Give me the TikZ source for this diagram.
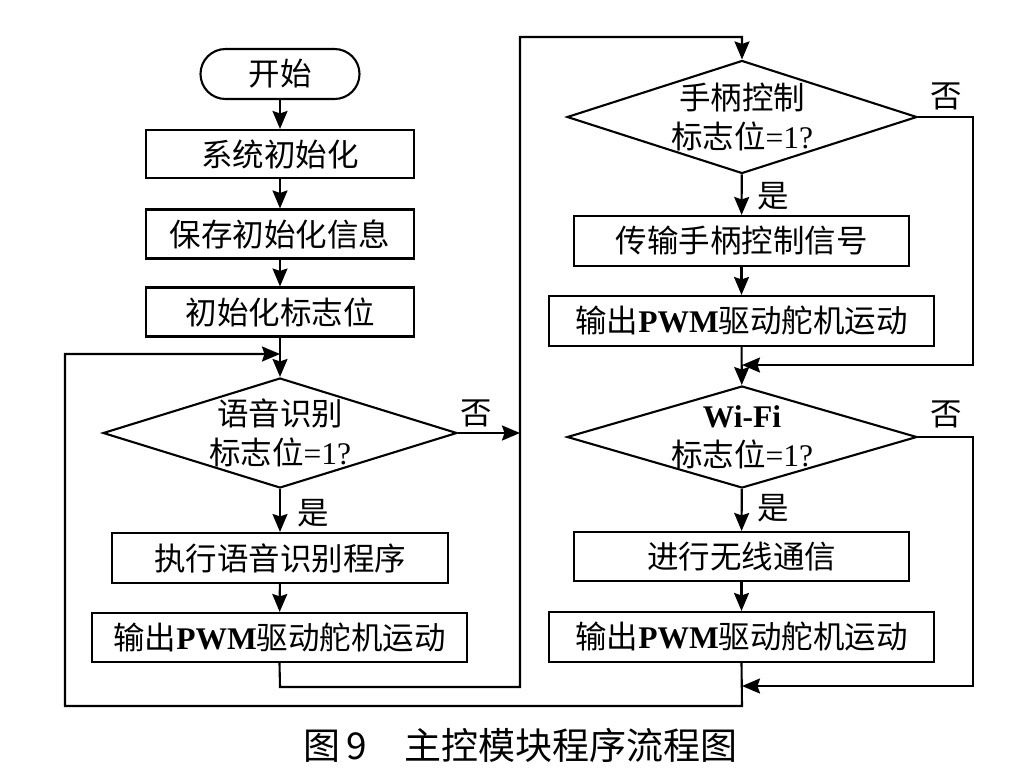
\documentclass[tikz,border=0pt]{standalone}
\usepackage{fontspec}
\setmainfont{Liberation Serif}
\newfontfamily\cjk{Noto Sans CJK SC}
\usetikzlibrary{arrows.meta,shapes.geometric}
\newcommand{\C}[1]{{\cjk #1}}
\begin{document}
\begin{tikzpicture}[x=1pt,y=-1pt,
  line width=2.1pt,
  every node/.style={font=\fontsize{31.5}{34}\selectfont},
  box/.style={draw,rectangle,inner sep=0pt,line width=2.1pt},
  pill/.style={draw,rectangle,rounded corners=25pt,inner sep=0pt,line width=2.1pt},
  dia/.style={draw,diamond,inner sep=0pt,line width=2.1pt,align=center},
  arr/.style={-{Stealth[length=18pt,width=15pt,inset=2.5pt]}},
  lbl/.style={inner sep=0pt}]
\useasboundingbox (0,0) rectangle (1009,772);
% left column
\node[pill,minimum width=159pt,minimum height=50pt] (start) at (280,74) {\C{开始}};
\node[box,minimum width=268pt,minimum height=48pt] (i1) at (280,154) {\C{系统初始化}};
\node[box,minimum width=268pt,minimum height=49pt] (i2) at (280,234) {\C{保存初始化信息}};
\node[box,minimum width=268pt,minimum height=49pt] (i3) at (280,312) {\C{初始化标志位}};
\node[dia,minimum width=354pt,minimum height=110pt] (d1) at (280,433) {};
\node[lbl,align=center] (t1) at (280,433) {\C{语音识别}\\[5pt]\C{标志位}=1?};
\node[box,minimum width=336pt,minimum height=50pt] (ex) at (280,558) {\C{执行语音识别程序}};
\node[box,minimum width=375pt,minimum height=49pt] (o1) at (279.5,637.5) {\C{输出}\textbf{PWM}\C{驱动舵机运动}};
% right column
\node[dia,minimum width=350pt,minimum height=113pt] (d2) at (742,117) {};
\node[lbl,align=center] (t2) at (742,117) {\C{手柄控制}\\[5pt]\C{标志位}=1?};
\node[box,minimum width=335pt,minimum height=50pt] (tr) at (741.5,241) {\C{传输手柄控制信号}};
\node[box,minimum width=385pt,minimum height=50pt] (o2) at (741.5,321) {\C{输出}\textbf{PWM}\C{驱动舵机运动}};
\node[dia,minimum width=350pt,minimum height=102pt] (d3) at (742,437) {};
\node[lbl,align=center] (t3) at (742,437) {\textbf{Wi-Fi}\\[5pt]\C{标志位}=1?};
\node[box,minimum width=335pt,minimum height=49pt] (wf) at (741.5,556.5) {\C{进行无线通信}};
\node[box,minimum width=385pt,minimum height=50pt] (o3) at (741.5,637) {\C{输出}\textbf{PWM}\C{驱动舵机运动}};
% labels
\node[lbl] (n1) at (476,413) {\C{否}};
\node[lbl] (y1) at (313,513) {\C{是}};
\node[lbl] (n2) at (946,96) {\C{否}};
\node[lbl] (y2) at (773,196) {\C{是}};
\node[lbl] (n3) at (946,414) {\C{否}};
\node[lbl] (y3) at (773,508) {\C{是}};
% coordinates
\coordinate (j1) at (280,354);
\coordinate (j2) at (520,433);
\coordinate (j3) at (742,365);
\coordinate (j4) at (742,686);
% connectors
\draw[arr] (start) -- (i1);
\draw[arr] (i1) -- (i2);
\draw[arr] (i2) -- (i3);
\draw[arr] (i3) -- (d1);
\draw[arr] (d1) -- (ex);
\draw[arr] (ex) -- (o1);
\draw[arr] (d1.east) -- (j2);
\draw[arr] (o1.south) -- (280,687) -- (520,687) -- (520,37) -- (742,37) -- (d2.north);
\draw[arr] (d2) -- (tr);
\draw[arr] (tr) -- (o2);
\draw[arr] (o2) -- (d3);
\draw[arr] (d2.east) -- (973,117) -- (973,365) -- (j3);
\draw[arr] (d3) -- (wf);
\draw[arr] (wf) -- (o3);
\draw[arr] (d3.east) -- (973,437) -- (973,686) -- (j4);
\draw[arr] (o3.south) -- (742,706) -- (65,706) -- (65,354) -- (j1);
% caption
\node[lbl,anchor=west,font=\fontsize{37}{40}\selectfont] (cap) at (302,745) {\C{图}\hspace{6pt}\C{9}\hspace{38pt}\C{主控模块程序流程图}};
\end{tikzpicture}
\end{document}
